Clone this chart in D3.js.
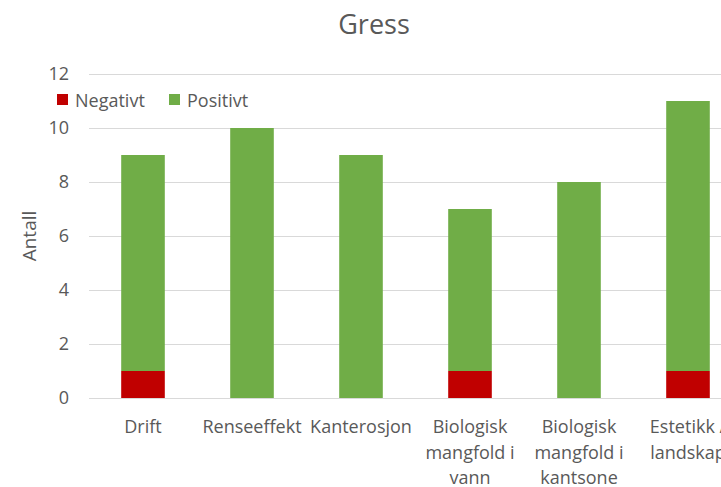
<!DOCTYPE html>
<html>
<head>
<meta charset="utf-8">
<script src="https://cdn.jsdelivr.net/npm/d3@7"></script>
<style>
body{margin:0;overflow:hidden;background:#fff;}
text{font-family:"Open Sans","Liberation Sans",sans-serif;fill:#595959;}
</style>
</head>
<body>
<script>
// chart data
var categories = ['Drift','Renseeffekt','Kanterosjon','Biologisk mangfold i vann','Biologisk mangfold i kantsone','Estetikk / landskap'];
var catLines = [['Drift'],['Renseeffekt'],['Kanterosjon'],['Biologisk','mangfold i','vann'],['Biologisk','mangfold i','kantsone'],['Estetikk /','landskap']];
var negativt = [1,0,0,1,0,1];
var positivt = [8,10,9,6,8,10];
var yTicks = [0,2,4,6,8,10,12];
var seriesNames = ['Negativt','Positivt'];
var colors = ['#C00000','#70AD47'];

var W = 760, H = 487;
var svg = d3.select('body').append('svg').attr('width',W).attr('height',H);

var xScale = d3.scaleBand().domain(categories)
  .range([88.5,742.5]).paddingInner(0.6).paddingOuter(0.3);
var yScale = d3.scaleLinear().domain([0,12]).range([398,74]);

//grid
var yAxis = d3.axisLeft(yScale).tickValues(yTicks).tickSize(-(W-89)).tickPadding(20);
var gy = svg.append('g').attr('transform','translate(89,0)').call(yAxis);
gy.select('.domain').remove();
gy.selectAll('.tick line').attr('stroke','#D9D9D9').attr('stroke-width',1);
gy.selectAll('.tick text').style('font-size','18px').attr('fill','#595959');

//stack
var rows = categories.map(function(c,i){return {cat:c,Negativt:negativt[i],Positivt:positivt[i]};});
var stack = d3.stack().keys(seriesNames)(rows);
svg.selectAll('g.layer').data(stack).enter().append('g').attr('class','layer')
  .attr('fill',function(d,i){return colors[i];})
  .selectAll('rect').data(function(d){return d;}).enter().append('rect')
  .attr('x',function(d){return xScale(d.data.cat);})
  .attr('width',xScale.bandwidth())
  .attr('y',function(d){return yScale(d[1]);})
  .attr('height',function(d){return yScale(d[0])-yScale(d[1]);});

//x labels
var xl = svg.append('g');
categories.forEach(function(c,i){
  var t = xl.append('text').attr('text-anchor','middle')
    .attr('x',xScale(c)+xScale.bandwidth()/2).attr('y',433)
    .style('font-size','18px');
  catLines[i].forEach(function(l,j){
    t.append('tspan').attr('x',xScale(c)+xScale.bandwidth()/2).attr('dy',j==0?0:25.5).text(l);
  });
});

//title, axis title
svg.append('text').attr('x',374).attr('y',34).attr('text-anchor','middle')
  .style('font-size','27px').text('Gress');
svg.append('text').attr('transform','translate(36,236) rotate(-90)')
  .attr('text-anchor','middle').style('font-size','19px').text('Antall');

//legend
var lg = svg.append('g');
var lx = [57,169];
seriesNames.forEach(function(s,i){
  lg.append('rect').attr('x',lx[i]).attr('y',94).attr('width',11).attr('height',11).attr('fill',colors[i]);
  lg.append('text').attr('x',lx[i]+18).attr('y',107).style('font-size','18px').text(s);
});
</script>
</body>
</html>
